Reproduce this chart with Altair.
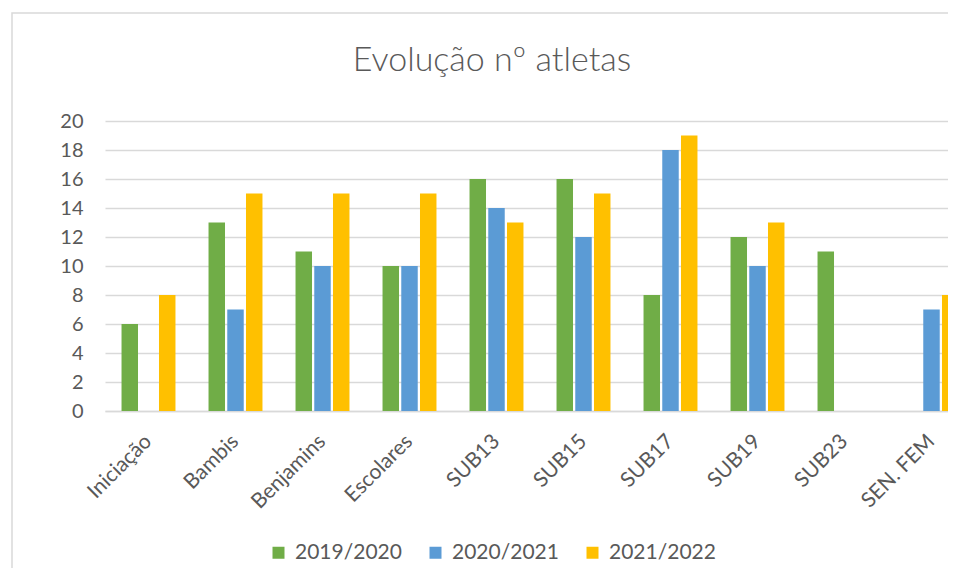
import altair as alt
import pandas as pd

title_text = "Evolução nº atletas"
categories = ["Iniciação", "Bambis", "Benjamins", "Escolares", "SUB13",
              "SUB15", "SUB17", "SUB19", "SUB23", "SEN. FEM"]
seasons = ["2019/2020", "2020/2021", "2021/2022"]
s2019 = [6, 13, 11, 10, 16, 16, 8, 12, 11, 0]
s2020 = [0, 7, 10, 10, 14, 12, 18, 10, 0, 7]
s2021 = [8, 15, 15, 15, 13, 15, 19, 13, 0, 8]
colors = ["#70AD47", "#5B9BD5", "#FFC000"]

rows = []
for i, c in enumerate(categories):
    for s, vals in zip(seasons, [s2019, s2020, s2021]):
        rows.append({"categoria": c, "época": s, "atletas": vals[i]})
df = pd.DataFrame(rows)

FONT = "Lato"
GREY = "#595959"

bars = alt.Chart(df).mark_bar().encode(
    x=alt.X("categoria:N", sort=categories, title=None,
            scale=alt.Scale(range=[0, 870], paddingInner=0.38, paddingOuter=0.19),
            axis=alt.Axis(labelAngle=315, labelAlign="right", labelBaseline="middle",
                          labelPadding=27, labelFontSize=21, labelFont=FONT,
                          labelColor=GREY, ticks=False, domain=True,
                          domainColor="#d9d9d9", domainWidth=1.5, grid=False)),
    xOffset=alt.XOffset("época:N", sort=seasons,
                        scale=alt.Scale(paddingInner=0.12, paddingOuter=0)),
    y=alt.Y("atletas:Q", title=None,
            scale=alt.Scale(domain=[0, 20], nice=False),
            axis=alt.Axis(values=list(range(0, 21, 2)), labelFontSize=20, labelFont=FONT,
                          labelColor=GREY, labelPadding=22, ticks=False, domain=False,
                          grid=True, gridColor="#d9d9d9", gridWidth=1.5)),
    color=alt.Color("época:N", sort=seasons,
                    scale=alt.Scale(domain=seasons, range=colors),
                    legend=alt.Legend(title=None, orient="none", direction="horizontal",
                                      legendX=163, legendY=421, symbolType="square",
                                      symbolSize=144, symbolStrokeWidth=0,
                                      labelFontSize=21, labelFont=FONT, labelColor=GREY,
                                      labelOffset=6, columnPadding=23)),
)

frame = alt.Chart(alt.Data(values=[{}])).mark_rect(
    fillOpacity=0, stroke="#d9d9d9", strokeWidth=1.5
).encode(
    x=alt.value(-93), x2=alt.value(900), y=alt.value(-108), y2=alt.value(520)
)

title = alt.Chart(alt.Data(values=[{"t": title_text}])).mark_text(
    fontSize=34, font=FONT, fontWeight=300, color=GREY, align="center", baseline="middle"
).encode(
    text="t:N", x=alt.value(387), y=alt.value(-60)
)

chart = alt.layer(frame, bars, title).properties(
    width=843, height=290,
    padding={"left": 97, "top": 113, "right": 0, "bottom": 157},
    autosize=alt.AutoSizeParams(type="none"),
).configure_view(stroke=None)

chart.save("out.html", embed_options={"renderer": "svg", "actions": False})
